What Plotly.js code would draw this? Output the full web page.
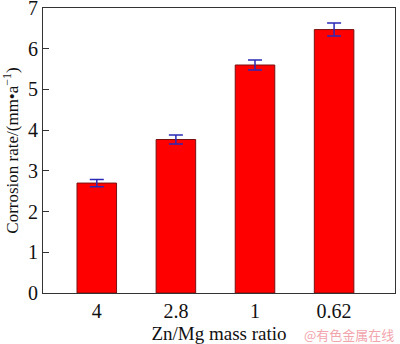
<!DOCTYPE html>
<html><head><meta charset="utf-8">
<script src="https://cdn.plot.ly/plotly-3.0.1.min.js"></script>
<style>html,body{margin:0;padding:0;background:#fff}</style>
</head><body><div id="chart" style="width:400px;height:344px"></div>
<script>
const categories = ["4", "2.8", "1", "0.62"];
const corrosionRate = [2.70, 3.77, 5.60, 6.47];
const errorValues = [0.09, 0.11, 0.125, 0.16];
const yTicks = [0, 1, 2, 3, 4, 5, 6, 7];

const serif = "Liberation Serif, Times New Roman, serif";
const trace = {
  type: "bar",
  x: categories,
  y: corrosionRate,
  width: 0.5,
  marker: {color: "#ff0000", line: {color: "#7a1010", width: 1}},
  error_y: {type: "data", array: errorValues, visible: true, color: "#2a2ab8", thickness: 1.5, width: 7}
};
const layout = {
  width: 400, height: 344,
  margin: {l: 43, r: 5, t: 8, b: 51},
  paper_bgcolor: "#fff", plot_bgcolor: "#fff",
  showlegend: false,
  font: {family: serif, size: 18, color: "#111"},
  xaxis: {
    type: "category", range: [-0.68, 3.77],
    showline: true, mirror: true, linecolor: "#333", linewidth: 1,
    ticks: "", showgrid: false, zeroline: false,
    tickfont: {family: serif, size: 20, color: "#111"},
    title: {text: "Zn/Mg mass ratio", font: {family: serif, size: 19, color: "#111"}, standoff: 6}
  },
  yaxis: {
    range: [0, 7], tickvals: yTicks, ticktext: yTicks.map(String),
    ticklabeloverflow: "allow",
    showline: true, mirror: true, linecolor: "#333", linewidth: 1,
    ticks: "inside", ticklen: 6, tickcolor: "#333",
    showgrid: false, zeroline: false,
    tickfont: {family: serif, size: 20, color: "#111"},
    title: {text: "Corrosion rate/(mm•a<sup>−1</sup>)", font: {family: serif, size: 17, color: "#111"}, standoff: 6}
  },
  annotations: [{
    text: "@有色金属在线", xref: "paper", yref: "paper", x: 0.87, y: -0.145,
    xanchor: "center", yanchor: "middle", showarrow: false,
    font: {family: "Noto Sans CJK SC", size: 13, color: "#f2a5ad"}
  }]
};
Plotly.newPlot("chart", [trace], layout, {displayModeBar: false, staticPlot: true});
</script></body></html>
